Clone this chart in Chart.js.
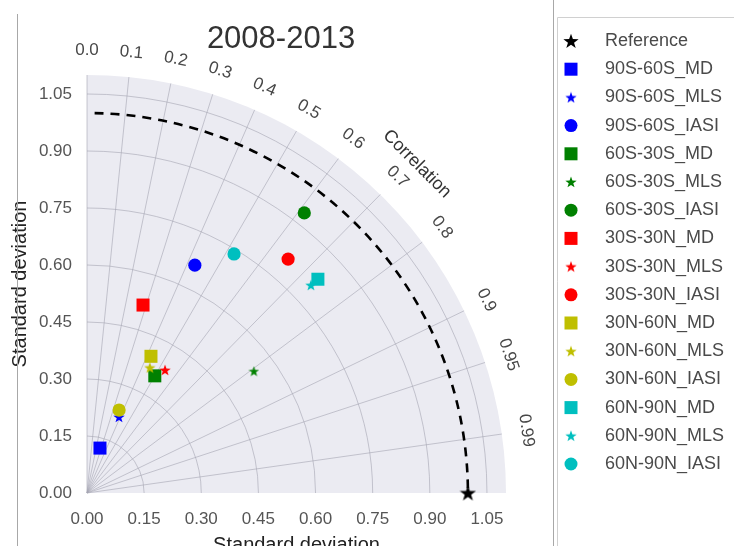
<!DOCTYPE html>
<html>
<head>
<meta charset="utf-8">
<script src="https://cdn.jsdelivr.net/npm/chart.js@4.4.1/dist/chart.umd.min.js"></script>
<style>
  html, body { margin: 0; padding: 0; background: #ffffff; }
  #wrap { position: relative; width: 734px; height: 546px; }
  canvas { display: block; }
</style>
</head>
<body>
<div id="wrap"><canvas id="c" width="734" height="546"></canvas></div>
<script>
// ---------------- data ----------------
const chartTitle = '2008-2013';
const regions = ['90S-60S', '60S-30S', '30S-30N', '30N-60N', '60N-90N'];
const regionColors = ['#0000ff', '#008000', '#ff0000', '#bfbf00', '#00bfbf'];
const products = ['MD', 'MLS', 'IASI'];

// normalised standard deviation and correlation, per product, one value per region
const stdMD    = [0.123, 0.356, 0.516, 0.397, 0.827];
const corrMD   = [0.277, 0.500, 0.285, 0.423, 0.733];
const stdMLS   = [0.217, 0.543, 0.383, 0.369, 0.803];
const corrMLS  = [0.387, 0.807, 0.535, 0.447, 0.732];
const stdIASI  = [0.663, 0.932, 0.811, 0.234, 0.738];
const corrIASI = [0.427, 0.612, 0.651, 0.360, 0.523];

const refStd = 1.0;
const maxStd = 1.1;
const stdTicks = [0, 0.15, 0.30, 0.45, 0.60, 0.75, 0.90, 1.05];
const stdTickLabels = ['0.00', '0.15', '0.30', '0.45', '0.60', '0.75', '0.90', '1.05'];
const corrTicks = [0.0, 0.1, 0.2, 0.3, 0.4, 0.5, 0.6, 0.7, 0.8, 0.9, 0.95, 0.99];
const corrTickLabels = ['0.0', '0.1', '0.2', '0.3', '0.4', '0.5', '0.6', '0.7', '0.8', '0.9', '0.95', '0.99'];

// ---------------- marker images ----------------
function starCanvas(color, size) {
  const c = document.createElement('canvas');
  c.width = size; c.height = size;
  const g = c.getContext('2d');
  const cx = size / 2, cy = size / 2 + size * 0.04, R = size / 2, r = R * 0.4;
  g.fillStyle = color;
  g.beginPath();
  for (let i = 0; i < 10; i++) {
    const a = -Math.PI / 2 + i * Math.PI / 5;
    const rr = (i % 2) ? r : R;
    g.lineTo(cx + rr * Math.cos(a), cy + rr * Math.sin(a));
  }
  g.closePath();
  g.fill();
  return c;
}

function toXY(s, c) {
  return { x: s * c, y: s * Math.sqrt(1 - c * c) };
}

const productCfg = {
  MD:   { std: stdMD,   corr: corrMD,   style: 'rect',   radius: 9.2 },
  MLS:  { std: stdMLS,  corr: corrMLS,  style: 'star',   size: 12 },
  IASI: { std: stdIASI, corr: corrIASI, style: 'circle', radius: 6.6 }
};

const datasets = [];
datasets.push({
  label: 'Reference',
  data: [{ x: refStd, y: 0 }],
  pointStyle: starCanvas('#000000', 17),
  legendStyle: 'star', legendSize: 16,
  backgroundColor: '#000000', borderColor: '#000000',
  pointRadius: 8, clip: false
});
regions.forEach((reg, ri) => {
  products.forEach(p => {
    const cfg = productCfg[p];
    const col = regionColors[ri];
    const ds = {
      label: reg + '_' + p,
      data: [toXY(cfg.std[ri], cfg.corr[ri])],
      backgroundColor: col, borderColor: col, borderWidth: 0,
      clip: false, legendStyle: cfg.style
    };
    if (cfg.style === 'star') {
      const sz = (ri === 1) ? 11 : cfg.size;
      ds.pointStyle = starCanvas(col, sz);
      ds.pointRadius = sz / 2;
      ds.legendSize = 12;
    } else {
      ds.pointStyle = cfg.style;
      ds.pointRadius = cfg.radius;
    }
    datasets.push(ds);
  });
});
// later series drawn on top (like the original plotting order)
datasets.forEach((d, i) => { d.order = datasets.length - i; });

// ---------------- custom drawing ----------------
const FONT = '"Liberation Sans", Arial, Helvetica, sans-serif';

const taylorPlugin = {
  id: 'taylor',
  beforeDatasetsDraw(chart) {
    const { ctx, scales: { x, y } } = chart;
    const ox = x.getPixelForValue(0), oy = y.getPixelForValue(0);
    const rx = x.getPixelForValue(1) - ox, ry = oy - y.getPixelForValue(1);
    ctx.save();
    // background quarter disc
    ctx.beginPath();
    ctx.moveTo(ox, oy);
    ctx.ellipse(ox, oy, rx * maxStd, ry * maxStd, 0, -Math.PI / 2, 0, false);
    ctx.closePath();
    ctx.fillStyle = '#ebebf2';
    ctx.fill();
    // std arcs
    ctx.strokeStyle = 'rgba(165,165,178,0.6)';
    ctx.lineWidth = 1;
    stdTicks.forEach(s => {
      if (s <= 0) return;
      ctx.beginPath();
      ctx.ellipse(ox, oy, rx * s, ry * s, 0, -Math.PI / 2, 0, false);
      ctx.stroke();
    });
    // radial correlation lines
    corrTicks.forEach(c => {
      const th = Math.acos(c);
      ctx.beginPath();
      ctx.moveTo(ox, oy);
      ctx.lineTo(ox + rx * maxStd * Math.cos(th), oy - ry * maxStd * Math.sin(th));
      ctx.stroke();
    });
    // reference std dashed arc
    ctx.strokeStyle = '#000000';
    ctx.lineWidth = 2.6;
    ctx.setLineDash([9, 7]);
    ctx.beginPath();
    ctx.ellipse(ox, oy, rx * refStd, ry * refStd, 0, -Math.PI / 2 + 0.02, 0, false);
    ctx.stroke();
    ctx.setLineDash([]);
    ctx.restore();
  },
  afterDraw(chart) {
    const { ctx, scales: { x, y } } = chart;
    const ox = x.getPixelForValue(0), oy = y.getPixelForValue(0);
    const rx = x.getPixelForValue(1) - ox, ry = oy - y.getPixelForValue(1);
    ctx.save();
    // title
    ctx.fillStyle = '#333333';
    ctx.font = '31px ' + FONT;
    ctx.textAlign = 'center';
    ctx.textBaseline = 'middle';
    ctx.fillText(chartTitle, 281, 39);
    // correlation tick labels
    ctx.fillStyle = '#484848';
    ctx.font = '17px ' + FONT;
    corrTicks.forEach((c, i) => {
      const th = Math.acos(c);
      const R = 1.165;
      const px = ox + rx * R * Math.cos(th), py = oy - ry * R * Math.sin(th);
      ctx.save();
      ctx.translate(px, py);
      ctx.rotate(Math.PI / 2 - th);
      ctx.fillText(corrTickLabels[i], 0, 0);
      ctx.restore();
    });
    // correlation axis label
    ctx.save();
    const thc = Math.PI / 4, Rc = 1.225;
    ctx.translate(ox + rx * Rc * Math.cos(thc), oy - ry * Rc * Math.sin(thc));
    ctx.rotate(Math.PI / 2 - thc);
    ctx.font = '18px ' + FONT;
    ctx.fillStyle = '#333333';
    ctx.fillText('Correlation', 0, 0);
    ctx.restore();

    // frame lines of the surrounding figure
    ctx.strokeStyle = '#a8a8a8';
    ctx.lineWidth = 1;
    ctx.beginPath(); ctx.moveTo(17.5, 14); ctx.lineTo(17.5, 546); ctx.stroke();
    ctx.beginPath(); ctx.moveTo(553.5, 0); ctx.lineTo(553.5, 546); ctx.stroke();
    ctx.strokeStyle = '#d0d0d0';
    ctx.beginPath(); ctx.moveTo(557.5, 546); ctx.lineTo(557.5, 17.5); ctx.lineTo(734, 17.5); ctx.stroke();

    // legend
    const lx = 571, tx = 605, ly0 = 41, step = 28.2;
    ctx.font = '18px ' + FONT;
    ctx.textAlign = 'left';
    ctx.textBaseline = 'middle';
    chart.data.datasets.forEach((ds, i) => {
      const cy = ly0 + i * step;
      ctx.fillStyle = ds.backgroundColor;
      if (ds.legendStyle === 'rect') {
        ctx.fillRect(lx - 6.5, cy - 6.5, 13, 13);
      } else if (ds.legendStyle === 'circle') {
        ctx.beginPath(); ctx.arc(lx, cy, 6.5, 0, Math.PI * 2); ctx.fill();
      } else {
        const img = starCanvas(ds.backgroundColor, ds.legendSize);
        ctx.drawImage(img, lx - img.width / 2, cy - img.height / 2);
      }
      ctx.fillStyle = '#4a4a4a';
      ctx.fillText(ds.label, tx, cy);
    });
    ctx.restore();
  }
};

const tickFont = { family: FONT, size: 17 };

new Chart(document.getElementById('c'), {
  type: 'scatter',
  data: { datasets },
  plugins: [taylorPlugin],
  options: {
    responsive: false,
    animation: false,
    devicePixelRatio: 1,
    layout: { padding: { left: 0, right: 228, top: 75, bottom: 0 } },
    plugins: { legend: { display: false }, tooltip: { enabled: false }, title: { display: false } },
    scales: {
      x: {
        type: 'linear', min: 0, max: maxStd,
        afterBuildTicks: s => { s.ticks = stdTicks.map(v => ({ value: v })); },
        afterFit: s => { s.height = 53; },
        grid: { display: false, drawTicks: false },
        border: { display: false },
        ticks: { padding: 16, color: '#555555', font: tickFont, maxRotation: 0, autoSkip: false,
                 callback: (v, i) => stdTickLabels[i] },
        title: { display: true, text: 'Standard deviation', color: '#222222',
                 font: { family: FONT, size: 20 }, padding: { top: 0, bottom: -11 } }
      },
      y: {
        type: 'linear', min: 0, max: maxStd,
        afterBuildTicks: s => { s.ticks = stdTicks.map(v => ({ value: v })); },
        afterFit: s => { s.width = 87; },
        grid: { display: false, drawTicks: false },
        border: { display: false },
        ticks: { padding: 15, color: '#555555', font: tickFont, autoSkip: false,
                 callback: (v, i) => stdTickLabels[i] },
        title: { display: true, text: 'Standard deviation', color: '#222222',
                 font: { family: FONT, size: 20 }, padding: { top: 8, bottom: 0 } }
      }
    }
  }
});
</script>
</body>
</html>
